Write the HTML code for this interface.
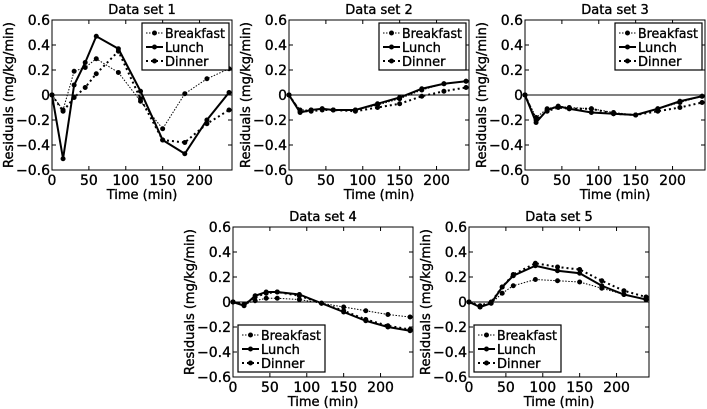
<!DOCTYPE html>
<html><head><meta charset="utf-8"><style>
html,body{margin:0;padding:0;background:#fff;}
svg{display:block;font-family:"DejaVu Sans","Liberation Sans",sans-serif;}
svg text{stroke:#000;stroke-width:0.35px;}
</style></head><body>
<svg id="fig" width="707" height="409" viewBox="0 0 707 409" xmlns="http://www.w3.org/2000/svg"></svg>
<script>
const times = [0,15,30,45,60,90,120,150,180,210,240];
const seriesNames = ["Breakfast","Lunch","Dinner"];
const xTicks = [0,50,100,150,200];
const yTicks = [-0.6,-0.4,-0.2,0,0.2,0.4,0.6];
const yTickLabels = ["\u22120.6","\u22120.4","\u22120.2","0","0.2","0.4","0.6"];
const ds1Breakfast = [0,-0.12,0.19,0.22,0.29,0.18,-0.05,-0.27,0.01,0.13,0.21];
const ds1Lunch = [0,-0.51,0.08,0.26,0.47,0.37,0.03,-0.36,-0.47,-0.20,0.02];
const ds1Dinner = [0,-0.13,-0.02,0.06,0.17,0.35,-0.03,-0.36,-0.38,-0.23,-0.12];
const ds2Breakfast = [0,-0.12,-0.12,-0.11,-0.12,-0.12,-0.08,-0.03,0.04,0.09,0.11];
const ds2Lunch = [0,-0.14,-0.12,-0.11,-0.12,-0.12,-0.07,-0.02,0.05,0.09,0.11];
const ds2Dinner = [0,-0.13,-0.13,-0.12,-0.12,-0.13,-0.10,-0.07,-0.01,0.03,0.06];
const ds3Breakfast = [0,-0.18,-0.11,-0.09,-0.10,-0.11,-0.14,-0.16,-0.11,-0.06,-0.01];
const ds3Lunch = [0,-0.22,-0.12,-0.09,-0.11,-0.14,-0.15,-0.16,-0.11,-0.05,-0.01];
const ds3Dinner = [0,-0.20,-0.13,-0.10,-0.11,-0.11,-0.15,-0.16,-0.13,-0.10,-0.06];
const ds4Breakfast = [0,-0.02,0.01,0.03,0.03,0.02,-0.01,-0.04,-0.07,-0.10,-0.12];
const ds4Lunch = [0,-0.03,0.05,0.08,0.08,0.06,-0.01,-0.08,-0.15,-0.20,-0.23];
const ds4Dinner = [0,-0.02,0.04,0.07,0.08,0.05,-0.01,-0.07,-0.14,-0.19,-0.22];
const ds5Breakfast = [0,-0.04,-0.01,0.07,0.13,0.18,0.17,0.16,0.11,0.06,0.02];
const ds5Lunch = [0,-0.04,-0.01,0.12,0.21,0.29,0.25,0.23,0.13,0.06,0.02];
const ds5Dinner = [0,-0.03,0,0.12,0.22,0.31,0.28,0.26,0.17,0.09,0.04];

const panels = [
 {title:"Data set 1", x:52, y:20, s:[ds1Breakfast,ds1Lunch,ds1Dinner], leg:"top"},
 {title:"Data set 2", x:289, y:20, s:[ds2Breakfast,ds2Lunch,ds2Dinner], leg:"top"},
 {title:"Data set 3", x:525, y:20, s:[ds3Breakfast,ds3Lunch,ds3Dinner], leg:"top"},
 {title:"Data set 4", x:233, y:227, s:[ds4Breakfast,ds4Lunch,ds4Dinner], leg:"bottom"},
 {title:"Data set 5", x:469, y:227, s:[ds5Breakfast,ds5Lunch,ds5Dinner], leg:"bottom"}
];
const W=180,H=150,XMAX=244;
const styles=[{w:1,d:"1.5,1.5"},{w:2,d:""},{w:2,d:"2,3"}];
const NS="http://www.w3.org/2000/svg";
const svg=document.getElementById('fig');
function el(tag,attrs,parent,text){const e=document.createElementNS(NS,tag);for(const k in attrs)e.setAttribute(k,attrs[k]);if(text!==undefined)e.textContent=text;(parent||svg).appendChild(e);return e;}

panels.forEach((p,pi)=>{
 const g=el('g',{});
 
 
 const sx=v=>p.x+v/XMAX*W;
 const sy=v=>p.y+H/2-v/1.2*H;
 const t=el('text',{x:p.x+W/2,y:p.y-6,'text-anchor':'middle','font-size':13},g,p.title);
 
 
 const z=el('line',{x1:p.x,x2:p.x+W,y1:sy(0),y2:sy(0),stroke:'#000','stroke-width':1},g);
 
 
 xTicks.forEach(v=>{
  const X=sx(v);
  el('line',{x1:X,x2:X,y1:p.y+H,y2:p.y+H-4,stroke:'#000'},g);
  el('line',{x1:X,x2:X,y1:p.y,y2:p.y+4,stroke:'#000'},g);
  const tl=el('text',{x:X,y:p.y+H+15,'text-anchor':'middle','font-size':14},g,String(v));
  
  
 });
 yTicks.forEach((v,i)=>{
  const Y=sy(v);
  el('line',{x1:p.x,x2:p.x+4,y1:Y,y2:Y,stroke:'#000'},g);
  el('line',{x1:p.x+W,x2:p.x+W-4,y1:Y,y2:Y,stroke:'#000'},g);
  const tl=el('text',{x:p.x-2,y:Y+5,'text-anchor':'end','font-size':14},g,yTickLabels[i]);
  
  
 });
 const xl=el('text',{x:p.x+W/2,y:p.y+H+29,'text-anchor':'middle','font-size':13},g,"Time (min)");
 
 
 const yl=el('text',{x:0,y:0,'text-anchor':'middle','font-size':13,transform:`translate(${p.x-39},${p.y+H/2}) rotate(-90)`},g,"Residuals (mg/kg/min)");
 
 
 p.s.forEach((arr,si)=>{
  const pts=arr.map((v,i)=>sx(times[i])+','+sy(v)).join(' ');
  const pl=el('polyline',{points:pts,fill:'none',stroke:'#000','stroke-width':styles[si].w,'stroke-dasharray':styles[si].d},g);
  
  
  arr.forEach((v,i)=>{
   const c=el('circle',{cx:sx(times[i]),cy:sy(v),r:2.5,fill:'#000'},g);
   
   
  });
 });
 const fr=el('rect',{x:p.x,y:p.y,width:W,height:H,fill:'none',stroke:'#000','stroke-width':1},g);
 
 
 const lx=p.leg==="top"?p.x+W-90:p.x+5;
 const ly=p.leg==="top"?p.y+3:p.y+H-52;
 const lg=el('g',{},g);
 
 
 el('rect',{x:lx,y:ly,width:87,height:47,fill:'#fff',stroke:'#000','stroke-width':1.2},lg);
 seriesNames.forEach((n,si)=>{
  const Y=ly+10+si*14;
  el('line',{x1:lx+4,x2:lx+21,y1:Y,y2:Y,stroke:'#000','stroke-width':styles[si].w,'stroke-dasharray':styles[si].d},lg);
  el('circle',{cx:lx+12.5,cy:Y,r:2.5,fill:'#000'},lg);
  const tx=el('text',{x:lx+23,y:Y+5,'font-size':13,textLength:60,lengthAdjust:'spacingAndGlyphs'},lg,n);
  if(n!=="Breakfast")tx.removeAttribute('textLength');
  
  
 });
});
</script>
</body></html>
